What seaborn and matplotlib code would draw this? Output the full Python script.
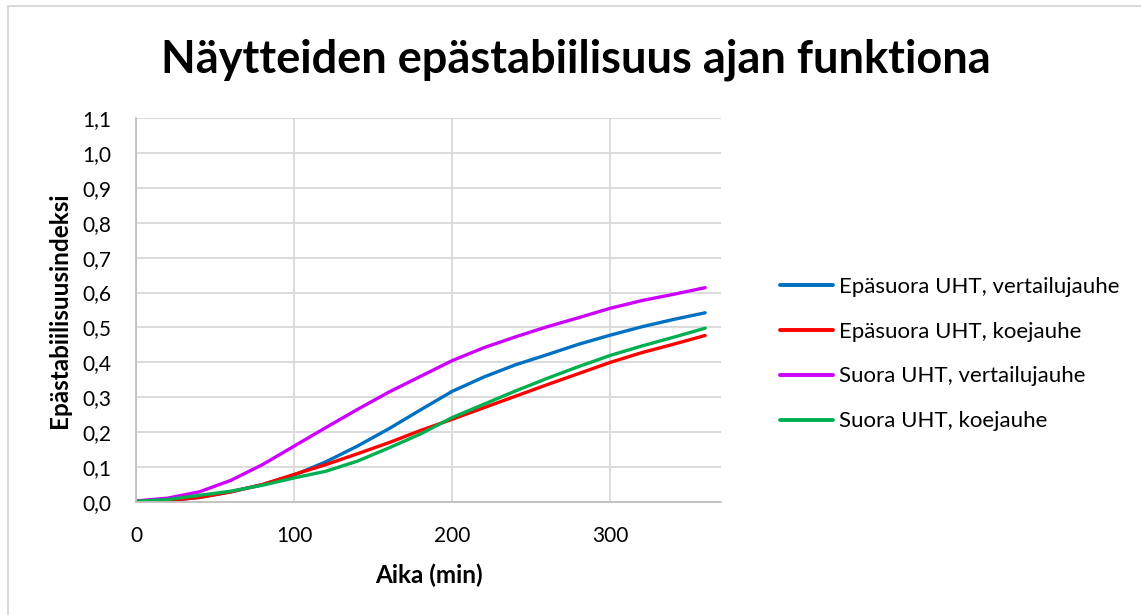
import matplotlib
matplotlib.use("Agg")
import matplotlib.pyplot as plt
import seaborn as sns
import pandas as pd
from matplotlib.patches import Rectangle

# Time points (min)
aika = [0, 20, 40, 60, 80, 100, 120, 140, 160, 180, 200, 220, 240, 260, 280, 300, 320, 340, 360]

# Instability index per sample
epasuora_vertailu = [0.000, 0.004, 0.013, 0.029, 0.050, 0.077, 0.115, 0.160, 0.210, 0.264, 0.317,
                     0.358, 0.393, 0.422, 0.452, 0.478, 0.502, 0.523, 0.542]
epasuora_koe = [0.000, 0.004, 0.013, 0.029, 0.050, 0.079, 0.107, 0.138, 0.170, 0.205, 0.237,
                0.270, 0.303, 0.336, 0.368, 0.400, 0.428, 0.452, 0.477]
suora_vertailu = [0.003, 0.011, 0.029, 0.062, 0.107, 0.160, 0.213, 0.265, 0.315, 0.360, 0.405,
                  0.442, 0.473, 0.502, 0.528, 0.555, 0.577, 0.595, 0.614]
suora_koe = [0.002, 0.007, 0.019, 0.031, 0.048, 0.069, 0.088, 0.117, 0.155, 0.195, 0.242,
             0.280, 0.318, 0.354, 0.388, 0.420, 0.447, 0.472, 0.498]

sarjat = ["Epäsuora UHT, vertailujauhe", "Epäsuora UHT, koejauhe",
          "Suora UHT, vertailujauhe", "Suora UHT, koejauhe"]
varit = ["#0070C0", "#FF0000", "#CC00FF", "#00B050"]

y_ticks = [0.0, 0.1, 0.2, 0.3, 0.4, 0.5, 0.6, 0.7, 0.8, 0.9, 1.0, 1.1]
x_ticks = [0, 100, 200, 300]

df = pd.concat([
    pd.DataFrame({"Aika": aika, "Indeksi": arvot, "Näyte": nimi})
    for nimi, arvot in zip(sarjat, [epasuora_vertailu, epasuora_koe, suora_vertailu, suora_koe])
])

sns.set_theme(style="white")
plt.rcParams["font.family"] = ["Lato", "DejaVu Sans"]
plt.rcParams["text.color"] = "black"
plt.rcParams["axes.labelcolor"] = "black"

W, H = 1141, 615
fig = plt.figure(figsize=(W / 100, H / 100), dpi=100)
ax = fig.add_axes([136 / W, 1 - 502 / H, (721 - 136) / W, (502 - 118) / H])

sns.lineplot(data=df, x="Aika", y="Indeksi", hue="Näyte", hue_order=sarjat,
             palette=varit, linewidth=2.4, ax=ax, legend=False)
for ln in ax.get_lines():
    ln.set_solid_joinstyle("round")
    ln.set_solid_capstyle("round")

ax.set_xlim(0, 370)
ax.set_ylim(0, 1.1)
ax.set_xticks(x_ticks)
ax.set_yticks(y_ticks)
ax.set_xticklabels([str(v) for v in x_ticks], fontsize=15)
ax.set_yticklabels([f"{v:.1f}".replace(".", ",") for v in y_ticks], fontsize=15)
ax.tick_params(axis="x", length=0, pad=17, colors="black")
ax.tick_params(axis="y", length=0, pad=18, colors="black")

ax.grid(True, color="#D9D9D9", linewidth=1.3)
ax.set_axisbelow(True)
for side in ["top", "right"]:
    ax.spines[side].set_visible(False)
for side in ["left", "bottom"]:
    ax.spines[side].set_color("#BFBFBF")
    ax.spines[side].set_linewidth(1.3)

ax.set_xlabel("Aika (min)", fontsize=17.5, fontweight="bold", labelpad=13)
ax.set_ylabel("Epästabiilisuusindeksi", fontsize=17.5, fontweight="bold", labelpad=8)

fig.text(576 / W, 1 - 60 / H, "Näytteiden epästabiilisuus ajan funktiona",
         ha="center", va="center", fontsize=32.5, fontweight="bold")

handles = [plt.Line2D([], [], color=c, linewidth=2.8) for c in varit]
fig.legend(handles, sarjat, loc="center left", bbox_to_anchor=(780 / W, 1 - 354 / H),
           frameon=False, fontsize=16, handlelength=2.4, handletextpad=0.25,
           labelspacing=1.12, borderpad=0, borderaxespad=0)

# Outer chart frame
fig.patches.append(Rectangle((8 / W, -0.05), 1.2, 1 - 6 / H + 0.05,
                             transform=fig.transFigure, fill=False,
                             edgecolor="#D9D9D9", linewidth=1.5))

fig.savefig("out.png", dpi=100, facecolor="white")
